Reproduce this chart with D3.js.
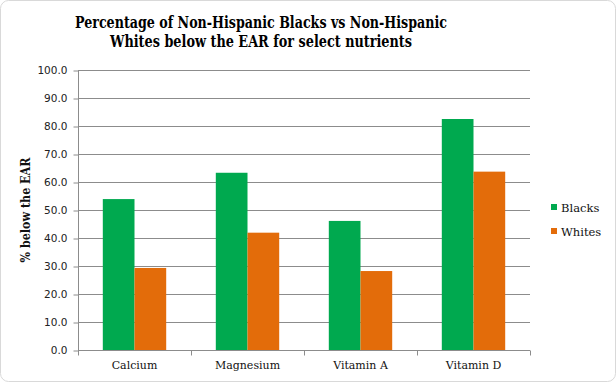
<!DOCTYPE html>
<html><head><meta charset="utf-8">
<script src="https://cdn.jsdelivr.net/npm/d3@7"></script>
<style>body{margin:0;background:#fff}svg{display:block}</style>
</head><body>
<script>
const categories = ["Calcium", "Magnesium", "Vitamin A", "Vitamin D"];
const seriesNames = ["Blacks", "Whites"];
const blacks = [53.9, 63.3, 46.1, 82.5];
const whites = [29.3, 41.9, 28.2, 63.7];
const yTicks = [0,10,20,30,40,50,60,70,80,90,100];
const colors = ["#00a94f", "#e36c0a"];
const titleLines = ["Percentage of Non-Hispanic Blacks vs Non-Hispanic", "Whites below the EAR for select nutrients"];

(function(){
const W = 616, H = 382;
const serif = "'DejaVu Serif', 'Liberation Serif', serif";
const svg = d3.select("body").append("svg").attr("width", W).attr("height", H);
svg.append("rect").attr("x",0.5).attr("y",0.5).attr("width",W-1).attr("height",H-1)
  .attr("rx",8).attr("fill","#fff").attr("stroke","#d9d9d9");

const pL = 78, pR = 530, pT = 70, pB = 350;
const x = d3.scaleBand().domain(categories).range([pL, pR]);
const y = d3.scaleLinear().domain([0,100]).range([pB, pT]);
const barW = 31.7;
const offset = (x.bandwidth() - 2*barW)/2;

svg.append("g").selectAll("line").data(yTicks.filter(d=>d>0)).join("line")
  .attr("x1", pL).attr("x2", pR).attr("y1", d=>y(d)+0.5).attr("y2", d=>y(d)+0.5)
  .attr("stroke","#8c8c8c").attr("stroke-width",1);

const series = [blacks, whites];
series.forEach((vals, si) => {
  svg.append("g").selectAll("rect").data(vals).join("rect")
    .attr("x", (d,i)=> x(categories[i]) + offset + si*barW)
    .attr("y", d=>y(d)).attr("width", barW).attr("height", d=>pB - y(d))
    .attr("fill", colors[si]);
});

const yAxis = d3.axisLeft(y).tickValues(yTicks).tickFormat(d3.format(".1f")).tickSize(5).tickPadding(6);
const gy = svg.append("g").attr("transform", `translate(${pL+0.5},0.5)`).call(yAxis);
gy.select(".domain").attr("stroke","#8c8c8c").attr("d", `M0,${pT}V${pB}`);
gy.selectAll(".tick line").attr("stroke","#8c8c8c");
gy.selectAll("text").attr("font-family","'DejaVu Sans', Verdana, sans-serif").attr("font-size",10.5).attr("fill","#222");

const gx = svg.append("g").attr("transform", `translate(0,${pB+0.5})`);
gx.append("line").attr("x1", pL).attr("x2", pR).attr("stroke","#8c8c8c");
const bounds = categories.map(c=>x(c)).concat([pR]);
gx.selectAll("line.t").data(bounds).join("line").attr("class","t")
  .attr("x1", d=>d+0.5).attr("x2", d=>d+0.5).attr("y1",0).attr("y2",5).attr("stroke","#8c8c8c");
gx.selectAll("text").data(categories).join("text")
  .attr("x", d=>x(d)+x.bandwidth()/2).attr("y", 18.5)
  .attr("text-anchor","middle").attr("font-family",serif).attr("font-size",11).attr("fill","#111")
  .text(d=>d);

svg.append("text").attr("transform", `translate(30,${(pT+pB)/2}) rotate(-90)`)
  .attr("text-anchor","middle").attr("font-family",serif).attr("font-weight","bold")
  .attr("font-size",12).attr("fill","#111")
  .attr("textLength",105).attr("lengthAdjust","spacingAndGlyphs").text("% below the EAR");

const tl = [[28, 372], [47, 302]];
titleLines.forEach((t,i)=>{
  svg.append("text").attr("x", 261).attr("y", tl[i][0]).attr("text-anchor","middle")
    .attr("font-family",serif).attr("font-weight","bold").attr("font-size",17)
    .attr("textLength", tl[i][1]).attr("lengthAdjust","spacingAndGlyphs")
    .attr("fill","#000").text(t);
});

const lg = svg.append("g");
seriesNames.forEach((n,i)=>{
  lg.append("rect").attr("x",551).attr("y",204 + i*24).attr("width",6).attr("height",6).attr("fill",colors[i]);
  lg.append("text").attr("x",561).attr("y",211.5 + i*24).attr("font-family",serif)
    .attr("font-size",11.5).attr("fill","#111").text(n);
});
})();
</script>
</body></html>
